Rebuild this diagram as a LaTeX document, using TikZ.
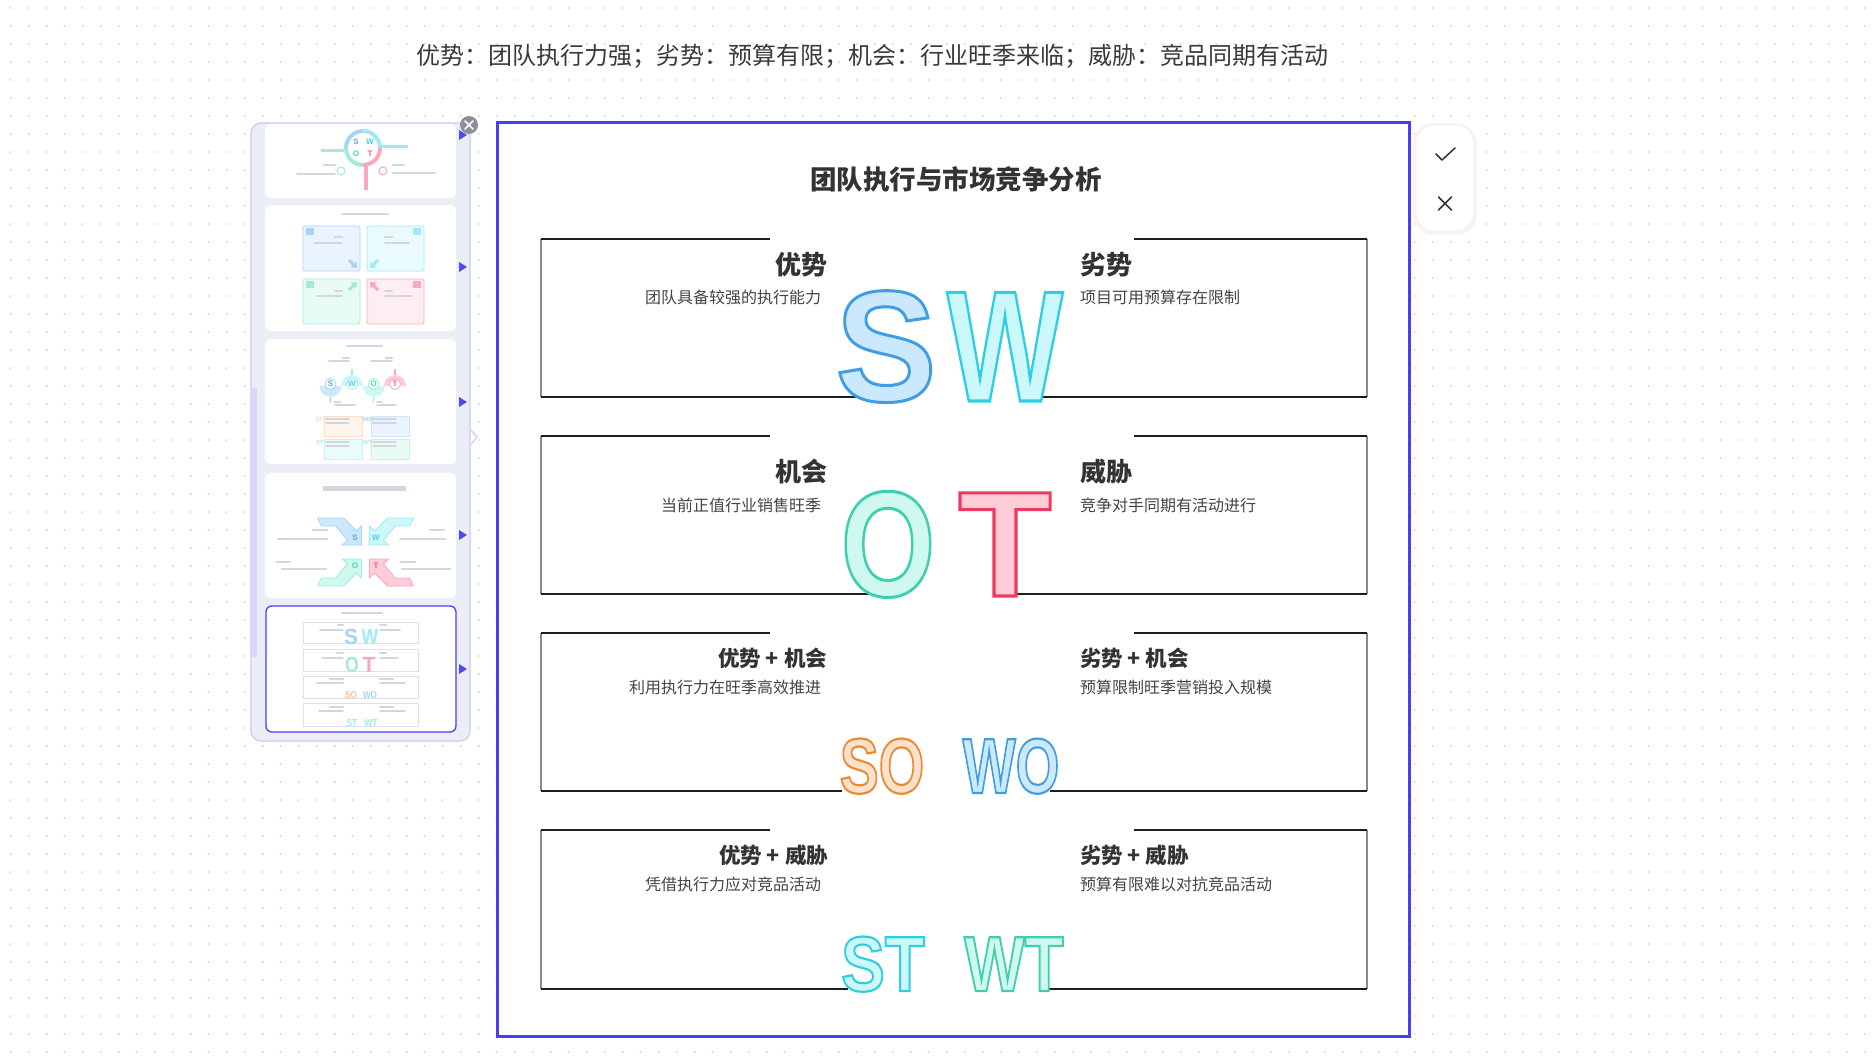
\documentclass[tikz,border=0pt]{standalone}
\usepackage{fontspec}
\setmainfont{Liberation Sans}
\newfontfamily\cjk{Noto Sans CJK SC}
\newfontfamily\latf{Liberation Sans}
\usepackage{graphicx}
\usetikzlibrary{arrows.meta}
\definecolor{frameblue}{HTML}{4B3CF5}
\definecolor{tri}{HTML}{5046F2}
\definecolor{panelbg}{HTML}{ECEEF7}
\definecolor{panelbd}{HTML}{CACAF6}
\definecolor{scrollc}{HTML}{D8D8FA}
\definecolor{tg}{HTML}{D3D6DD}
\definecolor{dotc}{HTML}{D9D9D9}
\definecolor{c333}{HTML}{333333}
\definecolor{c444}{HTML}{444444}
\definecolor{c3a}{HTML}{3A3A3A}
\definecolor{linek}{HTML}{1E1E1E}
\definecolor{lineg}{HTML}{8A8A8A}
\definecolor{sF}{HTML}{CCE8FD}
\definecolor{wF}{HTML}{CCF8FC}
\definecolor{oF}{HTML}{CFF8EE}
\definecolor{tF}{HTML}{FFCCD8}
\definecolor{soF}{HTML}{FDE2CB}
\definecolor{sL}{HTML}{A9D3F6}
\definecolor{wL}{HTML}{A2EAF3}
\definecolor{oL}{HTML}{A4EAD7}
\definecolor{tL}{HTML}{F6AABB}
\definecolor{sD}{HTML}{5AA9EC}
\definecolor{wD}{HTML}{45D3E6}
\definecolor{oD}{HTML}{4FD5B4}
\definecolor{tD}{HTML}{EF5B7C}
\definecolor{soD}{HTML}{F2A66A}
\definecolor{sP}{HTML}{EAF4FE}
\definecolor{wP}{HTML}{E9FBFD}
\definecolor{oP}{HTML}{E9FBF6}
\definecolor{tP}{HTML}{FEEEF2}
\definecolor{soP}{HTML}{FFF5EC}
\definecolor{soLL}{HTML}{FBDFC6}
\definecolor{btn}{HTML}{8C8F99}

% outlined letters: xscale, fill colour, stroke rgb, stroke width, text
\newcommand{\olet}[5]{\scalebox{#1}[1]{\textcolor{#2}{\special{pdf:code #3 RG #4 w 2 Tr}#5\special{pdf:code 0 Tr}}}}

\newcommand{\rowbox}[4]{%
  \draw[vline] (541,#1) -- (541,#2);
  \draw[vline] (1367,#1) -- (1367,#2);
  \draw[hline] (541,#1) -- (770,#1);
  \draw[hline] (1134,#1) -- (1367,#1);
  \draw[hline] (541,#2) -- (#3,#2);
  \draw[hline] (#4,#2) -- (1367,#2);}

\newcommand{\thumbarrow}[4]{%
  \begin{scope}[shift={(365.5,552)}, xscale=#1, yscale=#2]
    \draw[fill=#3, draw=#4, line width=0.8pt, line join=round]
      (-48,-34) -- (-22,-34) -- (-9,-21) -- (-4,-26) -- (-4,-7) -- (-23,-7) -- (-18,-12) -- (-30,-26) -- (-44,-26) -- cycle;
  \end{scope}}

\tikzset{
  every node/.style={inner sep=0pt, outer sep=0pt},
  head/.style={font=\cjk\bfseries\fontsize{26}{30}\selectfont, text=c333},
  head2/.style={font=\cjk\bfseries\fontsize{21.5}{25}\selectfont, text=c333},
  desc/.style={font=\cjk\fontsize{16}{19}\selectfont, text=c444},
  hline/.style={line width=2pt, draw=linek},
  vline/.style={line width=1.1pt, draw=lineg},
  gbar/.style={line width=2.6pt, draw=tg, line cap=round},
  gthin/.style={line width=1.6pt, draw=tg, line cap=round},
  card/.style={fill=white, rounded corners=6pt},
  dotline/.style={draw=dotc, line width=2.4pt, line cap=round, dash pattern=on 0pt off 18pt},
  bigl/.style={font=\latf\bfseries\fontsize{158}{158}\selectfont, anchor=base},
  midl/.style={font=\latf\bfseries\fontsize{150}{150}\selectfont, anchor=base},
  smll/.style={font=\latf\bfseries\fontsize{78}{78}\selectfont, anchor=base},
  thl/.style={font=\latf\bfseries\fontsize{22}{22}\selectfont, anchor=base},
  ths/.style={font=\latf\bfseries\fontsize{10}{10}\selectfont, anchor=base},
  tht/.style={font=\latf\bfseries\fontsize{8}{8}\selectfont},
  playtri/.style={fill=tri},
}

\begin{document}
\begin{tikzpicture}[x=1pt, y=-1pt]
\useasboundingbox (0,0) rectangle (1872,1057);
\fill[white] (0,0) rectangle (1872,1057);
% dotted background
\foreach \k in {0,...,58} \draw[dotline] (10.7,{8+18*\k}) -- (1872,{8+18*\k});

% top line
\node[font=\cjk\fontsize{24}{28}\selectfont, text=c3a] (topline) at (872,56) {优势：团队执行力强；劣势：预算有限；机会：行业旺季来临；威胁：竞品同期有活动};

% ===== left panel =====
\draw[fill=panelbg, draw=panelbd, line width=1.2pt, rounded corners=10pt] (251,123) rectangle (470,741);
\draw[line width=5pt, draw=scrollc, line cap=round] (254.5,390) -- (254.5,655);
% card 1
\fill[card] (265,124) rectangle (456,198);
\draw[line width=4pt, draw=sL] ([shift={(90:17pt)}]363,148) arc[start angle=90, end angle=180, radius=17pt];
\draw[line width=4pt, draw=wL] ([shift={(0:17pt)}]363,148) arc[start angle=0, end angle=90, radius=17pt];
\draw[line width=4pt, draw=oL] ([shift={(180:17pt)}]363,148) arc[start angle=180, end angle=270, radius=17pt];
\draw[line width=4pt, draw=tL] ([shift={(270:17pt)}]363,148) arc[start angle=270, end angle=360, radius=17pt];
\draw[line width=3pt, draw=oL] (321,150) -- (344,150);
\draw[line width=3pt, draw=wL] (382,146) -- (408,146);
\draw[line width=4pt, draw=tL] (366,166) -- (366,190);
\node[tht, text=sD] (c1s) at (356,142) {S};
\node[tht, text=wD] (c1w) at (370,142) {W};
\node[tht, text=oD] (c1o) at (356,154) {O};
\node[tht, text=tD] (c1t) at (370,154) {T};
\draw[line width=1pt, draw=oL] (341,171) circle[radius=4pt];
\draw[line width=1pt, draw=tL] (383,171) circle[radius=4pt];
\draw[gbar] (324,165) -- (335,165);
\draw[gthin] (297,174) -- (335,174);
\draw[gbar] (393,165) -- (404,165);
\draw[gthin] (393,173) -- (435,173);
\fill[playtri] (459,130) -- (467,135) -- (459,140) -- cycle;

% card 2
\fill[card] (265,205) rectangle (456,331);
\draw[gbar] (342,214) -- (388,214);
\draw[fill=sP, draw=sL, line width=0.8pt, rounded corners=1.5pt] (303,226) rectangle (360,271);
\draw[fill=wP, draw=wL, line width=0.8pt, rounded corners=1.5pt] (367,226) rectangle (424,271);
\draw[fill=oP, draw=oL, line width=0.8pt, rounded corners=1.5pt] (303,279) rectangle (360,324);
\draw[fill=tP, draw=tL, line width=0.8pt, rounded corners=1.5pt] (367,279) rectangle (424,324);
\fill[sL] (306,228) rectangle (314,235);
\fill[wL] (413,228) rectangle (421,235);
\fill[oL] (306,281) rectangle (314,288);
\fill[tL] (413,281) rectangle (421,288);
\draw[line width=3pt, draw=sL, -{Triangle[length=5pt,width=8pt]}] (349,260) -- (357,268);
\draw[line width=3pt, draw=wL, -{Triangle[length=5pt,width=8pt]}] (378,260) -- (370,268);
\draw[line width=3pt, draw=oL, -{Triangle[length=5pt,width=8pt]}] (349,290) -- (357,282);
\draw[line width=3pt, draw=tL, -{Triangle[length=5pt,width=8pt]}] (378,290) -- (370,282);
\draw[gbar] (335,237) -- (342,237);  \draw[gthin] (314,243) -- (342,243);
\draw[gbar] (385,237) -- (392,237);  \draw[gthin] (385,243) -- (409,243);
\draw[gbar] (335,291) -- (342,291);  \draw[gthin] (317,296) -- (342,296);
\draw[gbar] (385,291) -- (392,291);  \draw[gthin] (385,296) -- (412,296);
\fill[playtri] (459,262) -- (467,267) -- (459,272) -- cycle;

% card 3
\fill[card] (265,339) rectangle (456,464);
\draw[gbar] (347,346) -- (382,346);
\draw[gthin] (329,361) -- (349,361); \draw[gbar] (343,358) -- (349,358);
\draw[gthin] (371,361) -- (392,361); \draw[gbar] (386,358) -- (392,358);
\fill[sF] (319.5,386) arc[start angle=180, end angle=360, radius=11pt] -- cycle;
\fill[wF] (341,386) arc[start angle=180, end angle=0, radius=11pt] -- cycle;
\fill[oF] (362.7,386) arc[start angle=180, end angle=360, radius=11pt] -- cycle;
\fill[tF] (384,386) arc[start angle=180, end angle=0, radius=11pt] -- cycle;
\draw[line width=1.5pt, draw=sL] (330.5,397) -- (330.5,403);
\draw[line width=1.5pt, draw=wL] (352,375) -- (352,369);
\draw[line width=1.5pt, draw=oL] (373.7,397) -- (373.7,403);
\draw[line width=1.5pt, draw=tL] (395,375) -- (395,369);
\draw[fill=white, draw=sL, line width=0.8pt] (330.5,384) circle[radius=5.5pt];
\draw[fill=white, draw=wL, line width=0.8pt] (352,384) circle[radius=5.5pt];
\draw[fill=white, draw=oL, line width=0.8pt] (373.7,384) circle[radius=5.5pt];
\draw[fill=white, draw=tL, line width=0.8pt] (395,384) circle[radius=5.5pt];
\node[tht, text=sD] (c3s) at (330.5,384) {S};
\node[tht, text=wD] (c3w) at (352,384) {W};
\node[tht, text=oD] (c3o) at (373.7,384) {O};
\node[tht, text=tD] (c3t) at (395,384) {T};
\draw[gbar] (335,402) -- (340,402); \draw[gthin] (335,405) -- (355,405);
\draw[gbar] (377,402) -- (382,402); \draw[gthin] (377,405) -- (396,405);
\draw[fill=soP, draw=soLL, line width=0.6pt] (324,416) rectangle (362,436);
\draw[fill=sP, draw=sL!60, line width=0.6pt] (371,416) rectangle (409,436);
\draw[fill=wP, draw=wL!60, line width=0.6pt] (324,439) rectangle (362,459);
\draw[fill=oP, draw=oL!60, line width=0.6pt] (371,439) rectangle (409,459);
\draw[gthin] (326,419) -- (349,419); \draw[gthin] (326,423) -- (349,423);
\draw[gthin] (373,419) -- (396,419); \draw[gthin] (373,423) -- (396,423);
\draw[gthin] (326,442) -- (349,442); \draw[gthin] (326,446) -- (349,446);
\draw[gthin] (373,442) -- (396,442); \draw[gthin] (373,446) -- (396,446);
\node[font=\latf\bfseries\fontsize{6}{6}\selectfont, text=soLL] (c3so) at (320,419) {SO};
\node[font=\latf\bfseries\fontsize{6}{6}\selectfont, text=sL] (c3wo) at (368,419) {WO};
\node[font=\latf\bfseries\fontsize{6}{6}\selectfont, text=wL] (c3st) at (320,442) {ST};
\node[font=\latf\bfseries\fontsize{6}{6}\selectfont, text=oL] (c3wt) at (368,442) {WT};
\fill[playtri] (459,397) -- (467,402) -- (459,407) -- cycle;

% card 4
\fill[card] (265,473) rectangle (456,598);
\draw[line width=5pt, draw=tg] (323,488) -- (406,488);
\thumbarrow{1}{1}{sF}{sL}
\thumbarrow{-1}{1}{wF}{wL}
\thumbarrow{1}{-1}{oF}{oL}
\thumbarrow{-1}{-1}{tF}{tL}
\node[tht, text=sD] (c4s) at (355,538) {S};
\node[tht, text=wD] (c4w) at (376,538) {W};
\node[tht, text=oD] (c4o) at (355,566) {O};
\node[tht, text=tD] (c4t) at (376,566) {T};
\draw[gbar] (313,530) -- (327,530); \draw[gbar] (278,539) -- (327,539);
\draw[gbar] (430,530) -- (444,530); \draw[gbar] (400,539) -- (445,539);
\draw[gbar] (277,562) -- (290,562); \draw[gbar] (282,569) -- (326,569);
\draw[gbar] (401,562) -- (415,562); \draw[gbar] (402,569) -- (450,569);
\fill[playtri] (459,530) -- (467,535) -- (459,540) -- cycle;

% card 5 (selected)
\draw[fill=white, draw=frameblue, line width=1.3pt, rounded corners=6pt] (266,606) rectangle (456,732);
\draw[gbar] (342,613) -- (382,613);
\foreach \t/\b in {622/643, 649/671, 676/698, 703/726}{
  \draw[line width=0.8pt, draw=black!12] (303,\t) rectangle (418,\b);
}
\draw[gbar] (338,625) -- (343,625); \draw[gthin] (320,630) -- (343,630);
\draw[gbar] (380,625) -- (386,625); \draw[gthin] (380,630) -- (400,630);
\draw[gbar] (337,653) -- (343,653); \draw[gthin] (322,658) -- (343,658);
\draw[gbar] (380,653) -- (386,653); \draw[gthin] (380,658) -- (398,658);
\draw[gbar] (330,679) -- (343,679); \draw[gthin] (317,683) -- (343,683);
\draw[gbar] (380,679) -- (393,679); \draw[gthin] (380,683) -- (405,683);
\draw[gbar] (330,707) -- (343,707); \draw[gthin] (319,711) -- (343,711);
\draw[gbar] (380,707) -- (393,707); \draw[gthin] (380,711) -- (405,711);
\node[thl, text=sL] (c5s) at (351,644) {\scalebox{0.95}[1]{S}};
\node[thl, text=wL] (c5w) at (370,644) {\scalebox{0.8}[1]{W}};
\node[thl, text=oL] (c5o) at (352,672) {\scalebox{0.8}[1]{O}};
\node[thl, text=tL] (c5t) at (369,672) {T};
\node[ths, text=soD!70] (c5so) at (351,698) {\scalebox{0.8}[1]{SO}};
\node[ths, text=sL] (c5wo) at (370,698) {\scalebox{0.8}[1]{WO}};
\node[ths, text=wL] (c5st) at (352,726) {\scalebox{0.85}[1]{ST}};
\node[ths, text=oL] (c5wt) at (371,726) {\scalebox{0.85}[1]{WT}};
\fill[playtri] (459,664) -- (467,669) -- (459,674) -- cycle;

% close button and chevron
\fill[btn] (469,125) circle[radius=9pt];
\draw[white, line width=1.5pt, line cap=round] (465,121) -- (473,129) (465,129) -- (473,121);
\draw[line width=1.2pt, draw=panelbd, line cap=round] (471,430) -- (477,437) -- (471,444);

% ===== main frame =====
\draw[fill=white, draw=frameblue, line width=3pt] (497,122) rectangle (1409.5,1036);
\node[font=\cjk\bfseries\fontsize{26.5}{30}\selectfont, text=c333] (title) at (956,179) {团队执行与市场竞争分析};

\rowbox{239}{397}{863}{1038}
\rowbox{436}{594}{870}{1017}
\rowbox{633}{791}{842}{1050}
\rowbox{830}{989}{848}{1047}

% row texts
\node[head, anchor=east] (h1l) at (827,265) {优势};
\node[desc, anchor=east] (d1l) at (821,297) {团队具备较强的执行能力};
\node[head, anchor=west] (h1r) at (1080,265) {劣势};
\node[desc, anchor=west] (d1r) at (1080,297) {项目可用预算存在限制};
\node[head, anchor=east] (h2l) at (827,472) {机会};
\node[desc, anchor=east] (d2l) at (821,505) {当前正值行业销售旺季};
\node[head, anchor=west] (h2r) at (1080,472) {威胁};
\node[desc, anchor=west] (d2r) at (1080,505) {竞争对手同期有活动进行};
\node[head2, anchor=east] (h3l) at (827,658) {优势 + 机会};
\node[desc, anchor=east] (d3l) at (821,687) {利用执行力在旺季高效推进};
\node[head2, anchor=west] (h3r) at (1080,658) {劣势 + 机会};
\node[desc, anchor=west] (d3r) at (1080,687) {预算限制旺季营销投入规模};
\node[head2, anchor=east] (h4l) at (828,855) {优势 + 威胁};
\node[desc, anchor=east] (d4l) at (821,884) {凭借执行力应对竞品活动};
\node[head2, anchor=west] (h4r) at (1080,855) {劣势 + 威胁};
\node[desc, anchor=west] (d4r) at (1080,884) {预算有限难以对抗竞品活动};

% big letters
\node[bigl] (S) at (886,401) {\olet{0.96}{sF}{0.24 0.62 0.89}{3}{S}};
\node[bigl] (W) at (1005,401) {\olet{0.78}{wF}{0.18 0.81 0.886}{3}{W}};
\node[midl] (O) at (888,596) {\olet{0.81}{oF}{0.247 0.812 0.682}{3}{O}};
\node[midl] (T) at (1005,596) {\olet{1.02}{tF}{0.933 0.224 0.376}{3}{T}};
\node[smll] (SO) at (882,793) {\olet{0.75}{soF}{0.925 0.541 0.204}{2.2}{SO}};
\node[smll] (WO) at (1011,793) {\olet{0.72}{sF}{0.24 0.62 0.89}{2.2}{WO}};
\node[smll] (ST) at (883,991) {\olet{0.84}{wF}{0.18 0.81 0.886}{2.2}{ST}};
\node[smll] (WT) at (1014,991) {\olet{0.82}{oF}{0.247 0.812 0.682}{2.2}{WT}};

% ===== confirm panel =====
\fill[black!4, rounded corners=21pt] (1413,123) rectangle (1477,235);
\draw[fill=white, draw=black!6, line width=0.8pt, rounded corners=18pt] (1416,125) rectangle (1474,231);
\draw[line width=1.5pt, draw=c333, line cap=round, line join=round] (1436,154) -- (1442,160) -- (1455,148);
\draw[line width=1.5pt, draw=c333, line cap=round] (1438.5,197) -- (1451.5,210) (1438.5,210) -- (1451.5,197);
\end{tikzpicture}
\end{document}
